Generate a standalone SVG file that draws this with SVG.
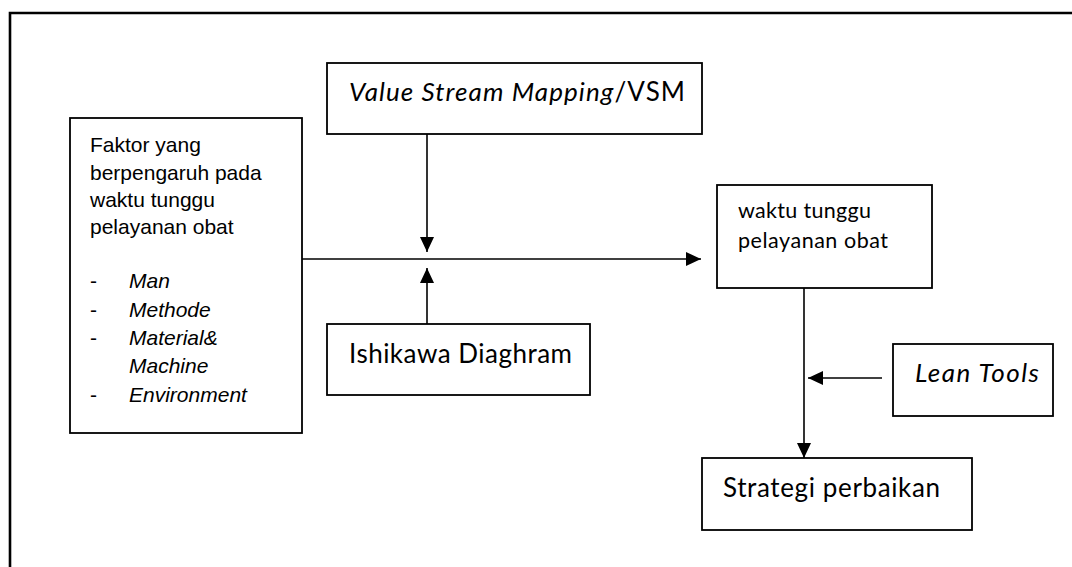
<svg xmlns="http://www.w3.org/2000/svg" width="1072" height="567" viewBox="0 0 1072 567">
<defs>
<style>
.box{fill:#fff;stroke:#000;stroke-width:1.8}
.ar{font-family:"Liberation Sans",Arial,sans-serif;font-size:21px;fill:#000}
.cb{font-family:Lato,"Open Sans",sans-serif;font-size:26px;fill:#000}
.cs{font-family:Lato,"Open Sans",sans-serif;font-size:21.5px;fill:#000}
.it{font-style:italic}
.con{stroke:#000;stroke-width:1.6;fill:none;marker-end:url(#ah)}
</style>
<marker id="ah" markerUnits="userSpaceOnUse" markerWidth="15" markerHeight="14" refX="15" refY="7" orient="auto" viewBox="0 0 15 14">
<path d="M0,0 L15,7 L0,14 z" fill="#000"/>
</marker>
</defs>
<rect width="1072" height="567" fill="#fff"/>
<path d="M10,580 V13 H1080" fill="none" stroke="#000" stroke-width="2.6"/>

<g id="faktor">
<rect class="box" x="70" y="118" width="232" height="315"/>
<text class="ar" x="90" y="152">Faktor yang</text>
<text class="ar" x="90" y="179.5">berpengaruh pada</text>
<text class="ar" x="90" y="206.5">waktu tunggu</text>
<text class="ar" x="90" y="233.5">pelayanan obat</text>
<text class="ar" x="90" y="288">-</text>
<text class="ar it" x="129" y="288">Man</text>
<text class="ar" x="90" y="316.5">-</text>
<text class="ar it" x="129" y="316.5">Methode</text>
<text class="ar" x="90" y="345">-</text>
<text class="ar it" x="129" y="345">Material&amp;</text>
<text class="ar it" x="129" y="373">Machine</text>
<text class="ar" x="90" y="401.5">-</text>
<text class="ar it" x="129" y="401.5">Environment</text>
</g>

<g id="vsm">
<rect class="box" x="327" y="63" width="375" height="71"/>
<text class="cb" x="349" y="101" textLength="336"><tspan class="it">Value Stream Mapping</tspan>/VSM</text>
</g>

<g id="ishikawa">
<rect class="box" x="327" y="324" width="263" height="71"/>
<text class="cb" x="349" y="363" textLength="223">Ishikawa Diaghram</text>
</g>

<g id="waktu">
<rect class="box" x="717" y="185" width="215" height="103"/>
<text class="cs" x="738" y="218" textLength="133">waktu tunggu</text>
<text class="cs" x="738" y="248" textLength="150">pelayanan obat</text>
</g>

<g id="lean">
<rect class="box" x="893" y="344" width="160" height="72"/>
<text class="cb it" x="915" y="382" textLength="124">Lean Tools</text>
</g>

<g id="strategi">
<rect class="box" x="702" y="458" width="270" height="72"/>
<text class="cb" x="723" y="497" textLength="217">Strategi perbaikan</text>
</g>

<g id="connectors">
<line class="con" x1="302" y1="259" x2="701" y2="259"/>
<line class="con" x1="427" y1="134" x2="427" y2="252"/>
<line class="con" x1="427" y1="324" x2="427" y2="268"/>
<line class="con" x1="804" y1="288" x2="804" y2="458"/>
<line class="con" x1="882" y1="378" x2="808" y2="378"/>
</g>
</svg>
